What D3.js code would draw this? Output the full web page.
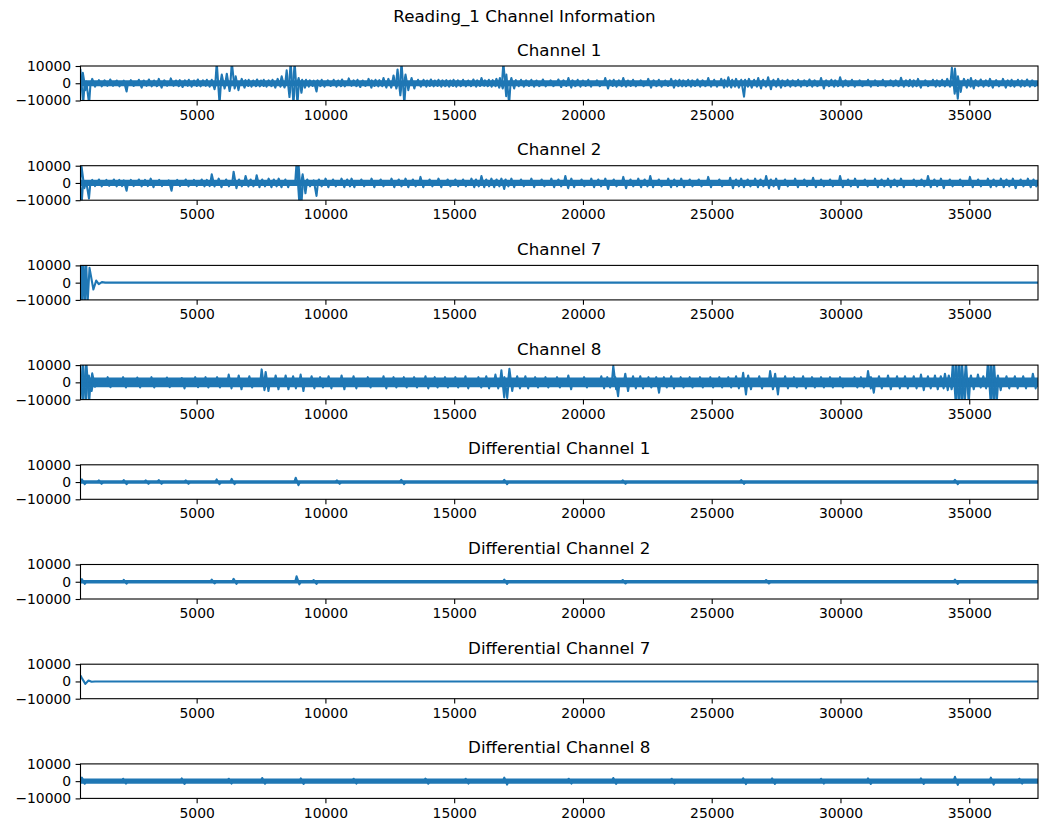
<!DOCTYPE html>
<html>
<head>
<meta charset="utf-8">
<script src="https://cdn.jsdelivr.net/npm/d3@7"></script>
<style>
  body { margin: 0; background: #fff; }
  text { font-family: "DejaVu Sans", sans-serif; fill: #000; }
</style>
</head>
<body>
<svg id="fig" width="1045" height="826"></svg>
<script>
// --- data ---
const figTitle = "Reading_1 Channel Information";
const titles = ["Channel 1", "Channel 2", "Channel 7", "Channel 8",
    "Differential Channel 1", "Differential Channel 2", "Differential Channel 7", "Differential Channel 8"];
const xDomain = [490, 37670];
const yDomain = [-10000, 10000];
const xTicks = [5000, 10000, 15000, 20000, 25000, 30000, 35000];
const yTicks = [-10000, 0, 10000];

// half width of the dense baseline band of each trace
const bands = [1100, 1200, 0, 2200, 400, 400, 0, 900];

// bursts: [sample, high, low]
const ch1Spikes = [
    [540, 8000, -12000], [635, 6000, -4000], [770, 1000, -12000], [1000, 2500, -2000],
    [1260, 1800, -1800], [1480, 1700, -1500], [1700, 2200, -1500], [1950, 1600, -1800],
    [2225, 1500, -4800], [2500, 1800, -1600], [2810, 2000, -2500], [3000, 1600, -1500],
    [3200, 2200, -1800], [3400, 1600, -1700], [3585, 2500, -2500], [3800, 1700, -1500],
    [4050, 2800, -1500], [4250, 1600, -1700], [4400, 1800, -2200], [4600, 1700, -1500],
    [4750, 2000, -2000], [4950, 1600, -1600], [5100, 2200, -1800], [5300, 1700, -1500],
    [5450, 2000, -2000], [5640, 2000, -3500], [5835, 12000, -12000], [6030, 5000, -3000],
    [6225, 5500, -4500], [6420, 12000, -3000], [6570, 4000, -4000], [6805, 2500, -2500],
    [6950, 1800, -1600], [7075, 2000, -2000], [7250, 1600, -1700], [7400, 2200, -1800],
    [7550, 1600, -1600], [7660, 2000, -2000], [7850, 1700, -1700], [8000, 2000, -2500],
    [8200, 2500, -2000], [8355, 4000, -2500], [8550, 7500, -8000], [8705, 12000, -12000],
    [8860, 12000, -12000], [9015, 3000, -5500], [9150, 2000, -2500], [9300, 2000, -2000],
    [9450, 1700, -1600], [9600, 1500, -4800], [9750, 1700, -1700], [9910, 2000, -2000],
    [10150, 1700, -1600], [10375, 2000, -2000], [10550, 1600, -1700], [10700, 2200, -1800],
    [10960, 2800, -1500], [11150, 1700, -1700], [11300, 2000, -2200], [11500, 1600, -1600],
    [11730, 2500, -2500], [11850, 1700, -1600], [12000, 2000, -1800], [12150, 1800, -1700],
    [12310, 3000, -2500], [12500, 2500, -2500], [12700, 4500, -3000], [12855, 8000, -7000],
    [13010, 12000, -12000], [13165, 5000, -4000], [13400, 3000, -3000], [13650, 2000, -2000],
    [13865, 2000, -2000], [14000, 1600, -1600], [14150, 2200, -1800], [14300, 1600, -1600],
    [14445, 2000, -2000], [14600, 1700, -1700], [14750, 1800, -2000], [14900, 1600, -1600],
    [15030, 2000, -2000], [15200, 1700, -1700], [15400, 2000, -1800], [15600, 1600, -1700],
    [15800, 2200, -2000], [15950, 1700, -1600], [16115, 3000, -1500], [16250, 1700, -1700],
    [16400, 2000, -2000], [16550, 1800, -1700], [16695, 2500, -2500], [16830, 3000, -3000],
    [16965, 12000, -7500], [17080, 5000, -12000], [17275, 3000, -3000], [17450, 1800, -1700],
    [17650, 2000, -2000], [17850, 1700, -1600], [18050, 2000, -2000], [18250, 1600, -1700],
    [18500, 2200, -1800], [18800, 1700, -1700], [19100, 2200, -2200], [19300, 1700, -1600],
    [19490, 3000, -2500], [19650, 1700, -1700], [19850, 2000, -2000], [20050, 1600, -1600],
    [20260, 2000, -2000], [20600, 1700, -1700], [20920, 3000, -3000], [21100, 1700, -1600],
    [21250, 2000, -2000], [21450, 1700, -1700], [21620, 3000, -2000], [21800, 1600, -1600],
    [22000, 2000, -1800], [22300, 1700, -1700], [22590, 2500, -2500], [22800, 1700, -1700],
    [23000, 2000, -2000], [23250, 1600, -1600], [23480, 2500, -2500], [23650, 1700, -1700],
    [23800, 2000, -1800], [23950, 1700, -1700], [24140, 2000, -2000], [24300, 1700, -1600],
    [24500, 2200, -2000], [24700, 1700, -1700], [24920, 3000, -2000], [25150, 2000, -2000],
    [25425, 2500, -2500], [25550, 2000, -2000], [25700, 3500, -2500], [25850, 2000, -2000],
    [26000, 2500, -2500], [26200, 2000, -7800], [26350, 2000, -2000], [26500, 2500, -2500],
    [26700, 2000, -2000], [26860, 3000, -3000], [27050, 2000, -2000], [27245, 3500, -3500],
    [27450, 2000, -2000], [27635, 2500, -2500], [27800, 1700, -1700], [28000, 2000, -2000],
    [28200, 1700, -1700], [28410, 2000, -2000], [28650, 1700, -1700], [28850, 2200, -2000],
    [29050, 1700, -1700], [29300, 3000, -3000], [29500, 1700, -1700], [29700, 2000, -2000],
    [29850, 1700, -1700], [30040, 3500, -2000], [30250, 1700, -1700], [30500, 2000, -2000],
    [30800, 1700, -1700], [31125, 2000, -2000], [31400, 1700, -1600], [31700, 2000, -1800],
    [32000, 1700, -1700], [32200, 1700, -1700], [32405, 3200, -2000], [32600, 1700, -1700],
    [32750, 2000, -2000], [32900, 1700, -1700], [33065, 2500, -2500], [33350, 1700, -1700],
    [33645, 2000, -2000], [33800, 1700, -1700], [34000, 2000, -1800], [34200, 2500, -2000],
    [34380, 9000, -6000], [34500, 8500, -9000], [34615, 4000, -5000], [34850, 2500, -2500],
    [35000, 2000, -2000], [35120, 3000, -3000], [35300, 1800, -1700], [35500, 2200, -2000],
    [35700, 1700, -1700], [35860, 2500, -2500], [36100, 1800, -1800], [36365, 2500, -2500],
    [36550, 1700, -1700], [36700, 2000, -2000], [36945, 2000, -2000], [37100, 1700, -1700],
    [37300, 2200, -2000], [37500, 1700, -1700]
];

const ch2Spikes = [
    [480, 10000, -12000], [585, 9400, -3000], [765, 1000, -9000], [1000, 1800, -1800],
    [1260, 2000, -2000], [1550, 1800, -1700], [1840, 2000, -2000], [2050, 1800, -1800],
    [2225, 1500, -4500], [2500, 1800, -1800], [2810, 2000, -2000], [3050, 1800, -1800],
    [3270, 2500, -2500], [3600, 1800, -1800], [3970, 1500, -4500], [4300, 1800, -1800],
    [4630, 2000, -2000], [4950, 1800, -1800], [5250, 2000, -2000], [5450, 1800, -1800],
    [5640, 5000, -2000], [5910, 2500, -2500], [6200, 2000, -2000], [6490, 6500, -3000],
    [6700, 2000, -2000], [6955, 4000, -2000], [7150, 2000, -2000], [7385, 4500, -2500],
    [7600, 2000, -2000], [7850, 2500, -2500], [8050, 2000, -2000], [8240, 2500, -2500],
    [8500, 2000, -2500], [8935, 12000, -12000], [9015, 10000, -12000], [9170, 5000, -6000],
    [9350, 2000, -2000], [9600, 1500, -7500], [9800, 2000, -2000], [10060, 2500, -2500],
    [10350, 2000, -2000], [10680, 2500, -2500], [10900, 2000, -2000], [11070, 2500, -2500],
    [11450, 2000, -2000], [11846, 2500, -2500], [12200, 2000, -2000], [12621, 2500, -2500],
    [12900, 2000, -2000], [13165, 2500, -2500], [13450, 2000, -2000], [13746, 3500, -2500],
    [14100, 2000, -2000], [14445, 2500, -2500], [14800, 2000, -2000], [15100, 2000, -2000],
    [15400, 2000, -2000], [15725, 2500, -2500], [15900, 2000, -2000], [16113, 4000, -2500],
    [16300, 2000, -2000], [16500, 2500, -2500], [16700, 2000, -2000], [16888, 2500, -3500],
    [17050, 2000, -2000], [17276, 2500, -2500], [17650, 2000, -2000], [18052, 2500, -2500],
    [18450, 2000, -2000], [18828, 2500, -2500], [19100, 2000, -2000], [19371, 4000, -3000],
    [19604, 2500, -2500], [20000, 2000, -2000], [20379, 2500, -2500], [20650, 2000, -2000],
    [20923, 2500, -3500], [21250, 2000, -2000], [21621, 3500, -3000], [21900, 2000, -2000],
    [22203, 2500, -2500], [22450, 2000, -2000], [22668, 4000, -2500], [23000, 2000, -2000],
    [23366, 2500, -2500], [23600, 2000, -2000], [23871, 2500, -2500], [24200, 2000, -2000],
    [24550, 2000, -2000], [24918, 3500, -2500], [25350, 2000, -2000], [25771, 3000, -3000],
    [26000, 2000, -2000], [26198, 2500, -2500], [26450, 2000, -2000], [26741, 2500, -2500],
    [26950, 2000, -2000], [27168, 4000, -3000], [27350, 2000, -2000], [27556, 2500, -3500],
    [27900, 2000, -2000], [28293, 2500, -2500], [28650, 2000, -2000], [28991, 3000, -2500],
    [29300, 2000, -2000], [29650, 2000, -2000], [30038, 4000, -2500], [30350, 2000, -2000],
    [30620, 2500, -2500], [31000, 2000, -2000], [31396, 2500, -2500], [31650, 2000, -2000],
    [31900, 2500, -2500], [32150, 2000, -2000], [32404, 2500, -2500], [32900, 2000, -2000],
    [33200, 2000, -2000], [33452, 4000, -2500], [33700, 2000, -2000], [33956, 2500, -3000],
    [34300, 2000, -2000], [34700, 2000, -2000], [35081, 3500, -2500], [35400, 2000, -2000],
    [35779, 2500, -2500], [36000, 2000, -2000], [36283, 2500, -2500], [36500, 2000, -2000],
    [36749, 2500, -3000], [37050, 2000, -2000], [37331, 2500, -2500], [37550, 2000, -2000]
];

const ch8Spikes = [
    [520, 12000, -12000], [640, 12000, -12000], [770, 12000, -12000], [868, 4000, -5000],
    [1000, 5200, -2500], [1600, 3000, -2800], [2200, 3000, -3000], [2750, 2800, -3000],
    [3300, 3000, -3000], [3900, 2800, -2800], [4476, 2500, -3500], [5000, 3000, -2800],
    [5400, 3000, -3000], [5850, 3000, -3000], [6299, 4500, -3500], [6687, 4000, -4000],
    [7100, 3500, -3000], [7579, 7500, -4500], [7734, 6000, -5000], [8122, 4000, -4000],
    [8510, 4000, -4000], [8800, 3500, -3500], [9092, 4500, -5000], [9518, 3500, -3500],
    [9850, 3000, -3000], [10178, 3500, -3500], [10682, 4000, -4000], [11147, 3500, -3500],
    [11700, 3000, -3000], [12311, 3500, -3500], [12700, 3000, -3000], [13100, 3000, -3000],
    [13500, 3000, -3000], [13940, 3500, -3500], [14300, 3000, -3000], [14700, 3000, -3000],
    [15100, 3000, -3000], [15492, 3500, -3500], [15996, 3000, -3000], [16300, 3500, -3500],
    [16656, 4500, -3500], [16888, 7000, -8700], [17005, 3000, -9000], [17199, 7800, -5000],
    [17500, 3500, -3500], [17819, 3500, -3500], [18200, 3000, -3000], [18600, 3000, -3000],
    [19050, 3000, -3000], [19487, 4000, -4000], [20100, 3000, -3000], [20767, 3500, -3500],
    [21000, 3000, -3000], [21233, 9500, -4000], [21310, 3000, -8000], [21698, 5000, -5000],
    [22000, 3500, -3500], [22280, 3500, -3500], [22600, 3000, -3000], [22901, 3000, -6000],
    [23200, 3000, -3000], [23482, 3500, -3500], [23850, 3000, -3000], [24200, 3000, -3000],
    [24600, 3000, -3000], [25000, 3000, -3000], [25350, 3000, -3000], [25700, 3000, -3000],
    [26000, 3500, -3500], [26276, 5500, -7000], [26470, 4000, -4000], [26900, 3500, -3500],
    [27323, 6500, -4000], [27517, 5000, -7000], [27905, 3500, -3500], [28250, 3000, -3000],
    [28603, 3500, -3500], [28950, 3000, -3000], [29301, 3000, -3000], [29650, 3000, -3000],
    [30038, 3000, -3000], [30600, 3000, -3000], [30850, 3000, -3000], [31124, 6500, -3500],
    [31240, 3000, -6000], [31550, 3500, -3500], [31900, 4000, -4000], [32250, 3500, -3500],
    [32560, 3500, -3500], [32900, 3500, -3500], [33180, 4500, -4500], [33450, 3500, -3500],
    [33723, 4000, -4000], [33950, 3500, -3500], [34111, 5000, -4500], [34260, 4000, -4000],
    [34421, 12000, -12000], [34538, 12000, -12000], [34654, 12000, -12000], [34770, 12000, -12000],
    [34925, 12000, -12000], [35120, 4000, -4000], [35391, 4500, -3000], [35600, 3500, -3500],
    [35779, 12000, -12000], [35895, 12000, -12000], [36011, 12000, -12000], [36167, 4000, -4500],
    [36500, 3500, -3500], [36826, 3500, -3500], [37150, 3500, -3500], [37525, 5000, -3500]
];

const diff1Spikes = [
    [600, 1500, -1200], [1256, 1000, -1000], [2225, 1100, -1200], [3076, 1000, -1000],
    [3585, 1100, -1000], [4630, 1000, -1000], [5832, 1500, -1200], [6415, 1800, -1200],
    [8900, 2500, -1800], [10500, 1000, -1000], [13000, 1300, -1200], [17000, 1300, -1200],
    [21600, 1000, -1000], [26200, 1100, -1100], [34500, 1300, -1200]
];

const diff2Spikes = [
    [600, 1500, -1200], [2225, 1100, -1100], [5640, 1200, -1000], [6490, 1700, -1200],
    [8935, 3200, -1500], [9600, 1000, -1200], [17000, 1200, -1200], [21600, 1000, -1000],
    [27168, 1000, -1000], [34500, 1200, -1200]
];

const diff8Spikes = [
    [600, 2000, -1500], [2200, 1400, -1400], [4476, 1600, -1600], [6300, 1400, -1400],
    [7600, 1800, -1500], [9100, 1600, -1600], [11150, 1400, -1400], [13940, 1500, -1500],
    [15500, 1400, -1400], [17000, 2000, -2000], [19500, 1400, -1400], [21233, 1800, -1600],
    [23500, 1400, -1400], [26276, 1700, -1700], [27400, 1600, -1600], [29300, 1400, -1400],
    [31124, 1600, -1600], [33180, 1600, -1600], [34500, 2500, -2200], [35895, 2000, -2000],
    [37000, 1400, -1400]
];

// traces that are a single clean line: [sample, value]
const ch7Wave = [
    [480, -12000], [520, 12000], [560, -12000], [610, 12000], [660, -12000], [710, 12000],
    [765, -12000], [840, 8600], [990, -4000], [1100, 1200], [1200, -900], [1320, 300],
    [1450, 0], [37670, 0]
];
const diff7Wave = [
    [490, 3500], [560, 1500], [680, -1400], [800, 500], [920, -200], [1050, 0], [37670, 0]
];

const spikeSets = [ch1Spikes, ch2Spikes, [], ch8Spikes, diff1Spikes, diff2Spikes, [], diff8Spikes];
const waveSets = [[], [], ch7Wave, [], [], [], diff7Wave, []];

// --- layout ---
const W = 1045, H = 826;
const left = 80.5, right = 1038;
const top0 = 66, step = 99.7, axH = 34.5;
const lineColor = "#1f77b4";
const lw = 2.08;
const spikeHalf = 1.4;   // px, half width of one oscillation

const svg = d3.select("#fig");
svg.append("rect").attr("width", W).attr("height", H).attr("fill", "#fff");

svg.append("text")
    .attr("x", W / 2 + 2)
    .attr("y", 22)
    .attr("text-anchor", "middle")
    .style("font-size", "16.7px")
    .text(figTitle);

const x = d3.scaleLinear().domain(xDomain).range([left, right]);

titles.forEach((title, i) => {
    const top = top0 + i * step;
    const y = d3.scaleLinear().domain(yDomain).range([top + axH, top]);
    const g = svg.append("g").attr("class", "panel");

    g.append("clipPath").attr("id", "clip" + i)
        .append("rect")
        .attr("x", left).attr("y", top)
        .attr("width", right - left).attr("height", axH);

    const plot = g.append("g").attr("clip-path", `url(#clip${i})`);

    // dense baseline band
    if (bands[i] > 0) {
        const area = d3.area()
            .x(d => x(d))
            .y0(y(-bands[i]))
            .y1(y(bands[i]));
        plot.append("path")
            .datum([xDomain[0], xDomain[1]])
            .attr("d", area)
            .attr("fill", lineColor)
            .attr("stroke", lineColor)
            .attr("stroke-width", lw);
    }

    // bursts, each drawn as one quick up/down swing
    plot.selectAll(".spike")
        .data(spikeSets[i])
        .join("path")
        .attr("class", "spike")
        .attr("d", d => {
            const cx = x(d[0]);
            return d3.line()([
                [cx - 2 * spikeHalf, y(0)],
                [cx - spikeHalf, y(d[1])],
                [cx + spikeHalf, y(d[2])],
                [cx + 2 * spikeHalf, y(0)]
            ]);
        })
        .attr("fill", "none")
        .attr("stroke", lineColor)
        .attr("stroke-width", lw)
        .attr("stroke-linejoin", "round");

    // single line traces
    if (waveSets[i].length) {
        plot.append("path")
            .datum(waveSets[i])
            .attr("d", d3.line().x(d => x(d[0])).y(d => y(d[1])))
            .attr("fill", "none")
            .attr("stroke", lineColor)
            .attr("stroke-width", lw)
            .attr("stroke-linejoin", "round");
    }

    // axes
    const xa = g.append("g")
        .attr("transform", `translate(0,${top + axH})`)
        .call(d3.axisBottom(x).tickValues(xTicks).tickSize(4.9).tickPadding(4.4)
            .tickFormat(d3.format("d")));
    const ya = g.append("g")
        .attr("transform", `translate(${left},0)`)
        .call(d3.axisLeft(y).tickValues(yTicks).tickSize(4.9).tickPadding(4.4)
            .tickFormat(d3.format("d")));
    [xa, ya].forEach(a => {
        a.select(".domain").remove();
        a.selectAll("line").attr("stroke", "#000").attr("stroke-width", 1.1);
        a.selectAll("text").style("font-size", "13.9px").attr("fill", "#000")
            .style("font-family", "DejaVu Sans, sans-serif");
    });

    g.append("rect")
        .attr("x", left).attr("y", top)
        .attr("width", right - left).attr("height", axH)
        .attr("fill", "none")
        .attr("stroke", "#000")
        .attr("stroke-width", 1.1);

    g.append("text")
        .attr("x", (left + right) / 2)
        .attr("y", top - 10.5)
        .attr("text-anchor", "middle")
        .style("font-size", "16.7px")
        .text(title);
});
</script>
</body>
</html>
